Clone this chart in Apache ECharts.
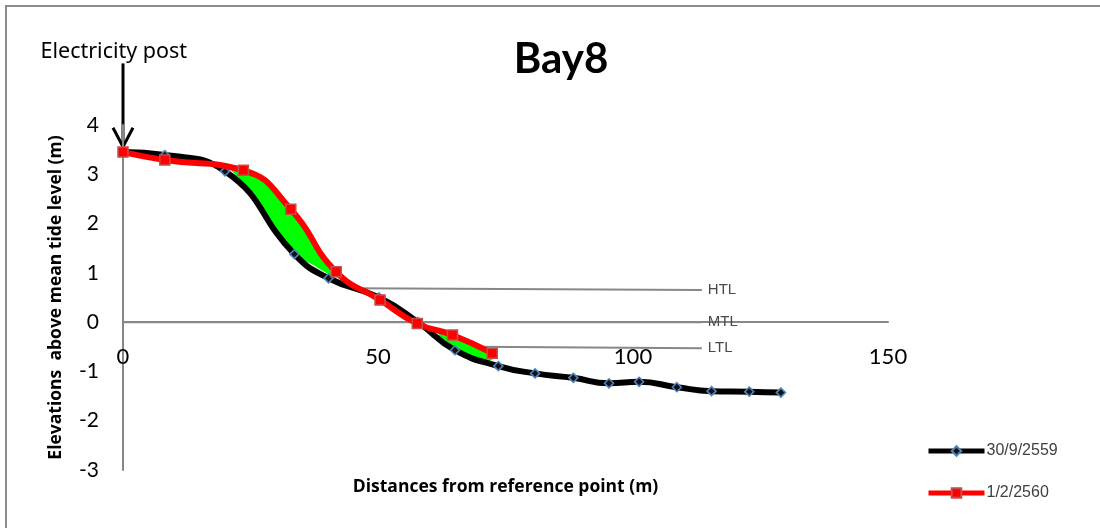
<!DOCTYPE html>
<html>
<head>
<meta charset="utf-8">
<title>Bay8</title>
<script src="https://cdn.jsdelivr.net/npm/echarts@6/dist/echarts.min.js"></script>
<style>
  html, body { margin: 0; padding: 0; background: #ffffff; }
  #chart { width: 1100px; height: 528px; }
</style>
</head>
<body>
<div id="chart"></div>
<script>
// Beach profile surveys: [distance from reference point (m), elevation (m)]
const survey1Name = '30/9/2559';
const survey1 = [
  [0, 3.45], [8.2, 3.39], [20.0, 3.06], [33.6, 1.38], [40.3, 0.89],
  [50.2, 0.50], [57.8, 0.0], [65.1, -0.57], [73.6, -0.89], [80.8, -1.04],
  [88.3, -1.13], [95.3, -1.24], [101.2, -1.21], [108.6, -1.32],
  [115.4, -1.40], [122.8, -1.41], [129.0, -1.43]
];
const survey2Name = '1/2/2560';
const survey2 = [
  [0, 3.45], [8.2, 3.29], [23.6, 3.08], [32.9, 2.29], [41.8, 1.02],
  [50.4, 0.45], [57.7, -0.03], [64.6, -0.26], [72.4, -0.63]
];

// Tide reference lines
const htlLine = [[45.5, 0.69], [113.5, 0.65]];
const mtlLine = [[0, 0], [113.5, 0]];
const ltlLine = [[69.0, -0.50], [113.5, -0.53]];
const tideLabels = ['HTL', 'MTL', 'LTL'];

// Outlines of the accreted (sand gain) areas between the two surveys
const gainPatches = [
  [[21.0, 3.10], [23.5, 3.07], [28.2, 2.81], [32.9, 2.29], [37.3, 1.60],
   [40.6, 1.12], [42.2, 0.92], [41.2, 0.92], [37.3, 1.16], [33.6, 1.38],
   [30.1, 1.87], [26.2, 2.47], [22.9, 2.88], [21.3, 3.07]],
  [[62.2, -0.23], [64.6, -0.28], [68.7, -0.47], [72.0, -0.63], [72.6, -0.74],
   [71.3, -0.81], [68.0, -0.69], [65.1, -0.57], [62.8, -0.40], [61.8, -0.28]]
];

// Axis scales
const xScale = { min: 0, max: 150, interval: 50 };
const yScale = { min: -3, max: 4, interval: 1 };

const titleText = 'Bay8';
const xName = 'Distances from reference point (m)';
const yName = 'Elevations  above mean tide level (m)';
const postLabel = 'Electricity post';

const chart = echarts.init(document.getElementById('chart'), null, { renderer: 'canvas' });
const axisGray = '#878787';
const textFont = 'Lato, "Liberation Sans", sans-serif';
const nameFont = '"Open Sans", "Noto Sans", sans-serif';

// Plot area; the horizontal axis is lifted to the zero elevation line
const gridBox = { left: 123, right: 212, top: 125, bottom: 58 };
const plotHeight = 528 - gridBox.top - gridBox.bottom;
const zeroOffset = -plotHeight * (0 - yScale.min) / (yScale.max - yScale.min);

function tideSeries(data, label) {
  return {
    type: 'line',
    name: label,
    data: data,
    symbol: 'none',
    silent: true,
    z: 1,
    lineStyle: { color: axisGray, width: 2 },
    endLabel: {
      show: true,
      formatter: label,
      distance: 6,
      color: '#4a4a4a',
      fontSize: 15,
      fontFamily: '"Liberation Sans", Arial, sans-serif'
    }
  };
}

const option = {
  animation: false,
  backgroundColor: '#ffffff',
  title: {
    text: titleText,
    left: 556,
    top: 33,
    textAlign: 'center',
    textStyle: { fontSize: 42, fontWeight: 'bold', color: '#000', fontFamily: textFont }
  },
  legend: {
    orient: 'vertical',
    left: 926,
    top: 443,
    padding: 0,
    itemWidth: 56,
    itemHeight: 12,
    itemGap: 26,
    data: [survey1Name, survey2Name],
    lineStyle: { width: 5 },
    textStyle: { fontSize: 16, color: '#404040', fontFamily: '"Liberation Sans", Arial, sans-serif', padding: [0, 0, 0, -3] }
  },
  grid: Object.assign({ containLabel: false, outerBoundsMode: 'none' }, gridBox),
  xAxis: {
    type: 'value',
    min: xScale.min, max: xScale.max, interval: xScale.interval,
    position: 'bottom',
    offset: zeroOffset,
    name: xName,
    nameLocation: 'middle',
    nameGap: 156,
    nameTextStyle: { fontSize: 17.5, fontWeight: 'bold', color: '#000', fontFamily: nameFont },
    axisLine: { show: true, onZero: false, lineStyle: { color: axisGray, width: 2 } },
    axisTick: { show: false },
    splitLine: { show: false },
    axisLabel: { margin: 24, fontSize: 22, color: '#000', fontFamily: textFont }
  },
  yAxis: {
    type: 'value',
    min: yScale.min, max: yScale.max, interval: yScale.interval,
    name: yName,
    nameLocation: 'middle',
    nameGap: 58,
    nameRotate: 90,
    nameTextStyle: { fontSize: 17.5, fontWeight: 'bold', color: '#000', fontFamily: nameFont },
    axisLine: { show: true, onZero: true, lineStyle: { color: axisGray, width: 2 } },
    axisTick: { show: false },
    splitLine: { show: false },
    axisLabel: { margin: 24, fontSize: 21, color: '#000', fontFamily: textFont }
  },
  series: [
    tideSeries(htlLine, tideLabels[0]),
    tideSeries(mtlLine, tideLabels[1]),
    tideSeries(ltlLine, tideLabels[2]),
    {
      type: 'custom',
      name: 'gain',
      silent: true,
      z: 2,
      data: gainPatches.map(p => p[0]),
      renderItem: function (params, api) {
        const pts = gainPatches[params.dataIndex].map(p => api.coord(p));
        return {
          type: 'polygon',
          shape: { points: pts, smooth: 0.25 },
          style: { fill: '#00ff00', stroke: null }
        };
      }
    },
    {
      type: 'line',
      name: survey1Name,
      data: survey1,
      smooth: 0.5,
      z: 3,
      symbol: 'diamond',
      symbolSize: 9,
      showAllSymbol: true,
      lineStyle: { color: '#000000', width: 6 },
      itemStyle: { color: '#111111', borderColor: '#4f81bd', borderWidth: 1.6 }
    },
    {
      type: 'line',
      name: survey2Name,
      data: survey2,
      smooth: 0.5,
      z: 4,
      symbol: 'rect',
      symbolSize: 10,
      showAllSymbol: true,
      lineStyle: { color: '#ff0000', width: 6 },
      itemStyle: { color: '#ff0000', borderColor: '#c0504d', borderWidth: 1.5 }
    }
  ]
};

chart.setOption(option);

// Annotation arrow pointing at the reference post (x = 0)
const tip = chart.convertToPixel({ gridIndex: 0 }, [0, 3.56]);
const tail = chart.convertToPixel({ gridIndex: 0 }, [0, 5.25]);
const labelPos = chart.convertToPixel({ gridIndex: 0 }, [-1.8, 5.48]);

chart.setOption({
  graphic: [
    {
      type: 'rect',
      silent: true,
      shape: { x: 6, y: 6, width: 1300, height: 700 },
      style: { fill: 'none', stroke: '#8c8c8c', lineWidth: 2 }
    },
    {
      type: 'line',
      silent: true,
      shape: { x1: tail[0], y1: tail[1], x2: tip[0], y2: tip[1] - 2 },
      style: { stroke: '#000', lineWidth: 3 }
    },
    {
      type: 'polyline',
      silent: true,
      shape: { points: [[tip[0] - 10, tip[1] - 19], [tip[0], tip[1]], [tip[0] + 10, tip[1] - 19]] },
      style: { stroke: '#000', lineWidth: 3, fill: 'none', lineJoin: 'miter' }
    },
    {
      type: 'text',
      silent: true,
      x: labelPos[0],
      y: labelPos[1],
      style: {
        text: postLabel,
        fill: '#000',
        font: '21.5px "Noto Sans", sans-serif',
        align: 'center',
        verticalAlign: 'middle'
      }
    }
  ]
});
</script>
</body>
</html>
